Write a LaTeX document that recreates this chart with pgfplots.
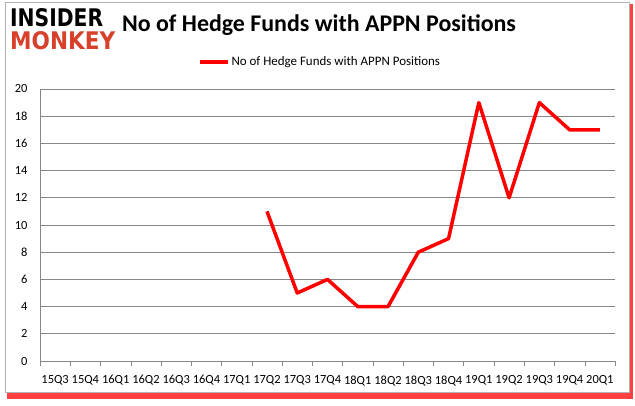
\documentclass[border=0pt]{standalone}
\usepackage{pgfplots}
\pgfplotsset{compat=1.18}
\usepackage{fontspec}
\setmainfont{Carlito}
\newfontfamily\logofont{DejaVu Sans}
\definecolor{gridgray}{HTML}{878787}
\definecolor{monkeyred}{HTML}{D7402A}
\definecolor{linered}{HTML}{FF0000}

\begin{document}
\begin{tikzpicture}[x=1bp,y=1bp]
  \path[use as bounding box] (0,0) rectangle (635,405);
  % frame with red shadow
  \fill[red!75!white] (7,6) rectangle (633,401);
  \filldraw[fill=white, draw=gray!60] (5,13) rectangle (629,403);
  % logo
  \node[anchor=north west, inner sep=0] at (10,397)
    {\resizebox{93bp}{18bp}{\logofont\bfseries INSIDER}};
  \node[anchor=north west, inner sep=0, text=monkeyred] at (10,374)
    {\resizebox{105bp}{18bp}{\logofont\bfseries MONKEY}};
  % title
  \node[font=\bfseries\fontsize{24}{28}\selectfont] at (319,380)
    {No of Hedge Funds with APPN Positions};

  \begin{axis}[
    at={(40bp,44bp)}, anchor=south west,
    scale only axis,
    width=575bp, height=272bp,
    xmin=-0.5, xmax=18.5,
    ymin=0, ymax=20,
    ytick={0,2,...,20},
    xtick={0,...,18},
    xticklabels={15Q3,15Q4,16Q1,16Q2,16Q3,16Q4,17Q1,17Q2,17Q3,17Q4,18Q1,18Q2,18Q3,18Q4,19Q1,19Q2,19Q3,19Q4,20Q1},
    minor xtick={-0.5,0.5,...,18.5},
    major tick length=0pt,
    minor tick length=5bp,
    tick align=outside,
    xtick pos=bottom, ytick pos=left,
    axis x line*=bottom, axis y line*=left,
    axis line style={gridgray},
    every tick/.style={gridgray},
    ymajorgrids,
    major grid style={gridgray, line width=0.9bp},
    /pgf/number format/assume math mode=true,
    tick label style={font=\fontsize{12.5}{14}\selectfont},
    xticklabel style={yshift=-11bp},
    yticklabel style={xshift=-9bp},
    legend style={at={(0.487,1.1)}, anchor=center, draw=none,
      font=\fontsize{13}{15}\selectfont, inner sep=1bp,
      /tikz/every even column/.style={column sep=0bp},
      legend image code/.code={\draw[#1] (0bp,0bp) -- (28bp,0bp);}},
    legend cell align=left,
  ]
    \addplot[linered, line width=3.5bp, line join=round] coordinates {
      (7,11) (8,5) (9,6) (10,4) (11,4) (12,8) (13,9)
      (14,19) (15,12) (16,19) (17,17) (18,17)
    };
    \legend{No of Hedge Funds with APPN Positions}
  \end{axis}
\end{tikzpicture}
\end{document}
